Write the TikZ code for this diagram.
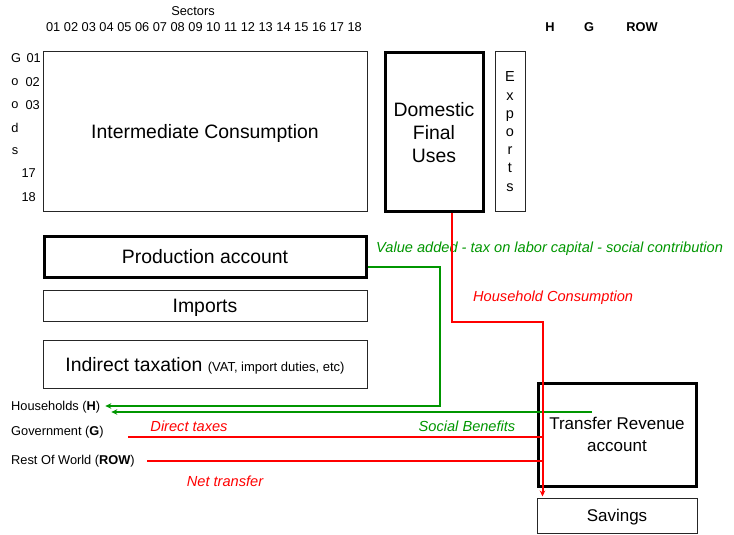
\documentclass[tikz,border=0pt]{standalone}
\usepackage{fontspec}
\setmainfont{Liberation Sans}
\usetikzlibrary{arrows.meta}
\definecolor{vgreen}{RGB}{0,150,0}
\definecolor{vred}{RGB}{255,0,0}
\begin{document}
\begin{tikzpicture}[x=1pt,y=-1pt,
  thinbox/.style={draw=black!85, line width=1pt, inner sep=0pt, align=center, text depth=0pt},
  thickbox/.style={draw=black, line width=3pt, inner sep=0pt, align=center, text depth=0pt},
  lbl/.style={inner sep=0pt, font=\fontsize{12.8}{15}\selectfont},
  big/.style={font=\fontsize{19.4}{23}\selectfont},
  mid/.style={font=\fontsize{17}{22}\selectfont},
  glink/.style={draw=vgreen, line width=2pt},
  rlink/.style={draw=vred, line width=2pt},
  gtxt/.style={text=vgreen, inner sep=0pt, font=\fontsize{14.6}{17}\selectfont\itshape},
  rtxt/.style={text=vred, inner sep=0pt, font=\fontsize{14.6}{17}\selectfont\itshape},
  tipend/.style={-{Stealth[length=6pt,width=5.5pt]}}
]
\useasboundingbox (0,0) rectangle (734,535);

% headers
\node[lbl] (sectors) at (193,11) {Sectors};
\node[lbl] (secnums) at (204,27) {01 02 03 04 05 06 07 08 09 10 11 12 13 14 15 16 17 18};
\node[lbl, font=\fontsize{12.8}{15}\selectfont\bfseries] (hcol) at (550,27) {H};
\node[lbl, font=\fontsize{12.8}{15}\selectfont\bfseries] (gcol) at (589,27) {G};
\node[lbl, font=\fontsize{12.8}{15}\selectfont\bfseries] (rowcol) at (642,27) {ROW};

% goods column
\node[lbl] (gG) at (16,58) {G};
\node[lbl] (go1) at (15,82) {o};
\node[lbl] (go2) at (15,105) {o};
\node[lbl] (gd) at (15,128) {d};
\node[lbl] (gs) at (15,151) {s};
\node[lbl, anchor=east] (n01) at (41,58) {01};
\node[lbl, anchor=east] (n02) at (40,82) {02};
\node[lbl, anchor=east] (n03) at (40,105) {03};
\node[lbl, anchor=east] (n17) at (36,173) {17};
\node[lbl, anchor=east] (n18) at (36,197) {18};

% boxes
\node[thinbox, big, minimum width=324pt, minimum height=159pt] (ic) at (205,131.5) {Intermediate Consumption};
\node[thickbox, big, minimum width=98pt, minimum height=158pt] (dfu) at (434,132) {Domestic\\Final\\Uses};
\node[thinbox, font=\fontsize{14.5}{18.2}\selectfont, minimum width=30pt, minimum height=159pt] (exp) at (510,131.5) {E\\x\\p\\o\\r\\t\\s};
\node[thickbox, big, minimum width=322pt, minimum height=41pt] (prod) at (205,256.5) {Production account};
\node[thinbox, big, minimum width=324pt, minimum height=31pt] (imp) at (205,305.5) {Imports};
\node[thinbox, big, minimum width=324pt, minimum height=48pt] (ind) at (205,364) {Indirect taxation {\fontsize{13}{15}\selectfont(VAT, import duties, etc)}};
\node[thickbox, mid, minimum width=158pt, minimum height=103pt] (tra) at (617,434.5) {Transfer Revenue\\account};
\node[thinbox, mid, minimum width=160pt, minimum height=35pt] (sav) at (617,515.5) {Savings};

% agents
\node[lbl, anchor=west] (hh) at (11,407) {Households (\textbf{H})};
\node[lbl, anchor=west] (gov) at (11,432) {Government (\textbf{G})};
\node[lbl, anchor=west] (row) at (11,461) {Rest Of World (\textbf{ROW})};

% labels
\node[gtxt, anchor=west] (va) at (376,249) {Value added - tax on labor capital - social contribution};
\node[rtxt, anchor=west] (hcons) at (473,298) {Household Consumption};
\node[gtxt] (sb) at (467,426) {Social Benefits};
\node[rtxt] (dt) at (189,426) {Direct taxes};
\node[rtxt] (nt) at (225,481) {Net transfer};

% green connectors
\coordinate (gturn) at (440,406);
\coordinate (hhtipa) at ([xshift=5pt]hh.east);
\draw[glink, tipend] ([yshift=-10pt]prod.east) -| (gturn) -- (hhtipa |- gturn);
\coordinate (sbstart) at (592,412);
\coordinate (hhtipb) at ([xshift=11pt]hh.east);
\draw[glink, tipend] (sbstart) -- (hhtipb |- sbstart);

% red connectors
\coordinate (redv) at (543,321);
\draw[rlink, tipend] ([xshift=18pt]dfu.south) -- ++(0,109) -| ([xshift=6pt,yshift=1pt]sav.north west);
\coordinate (dtstart) at (128,437);
\coordinate (ntstart) at (147,461);
\draw[rlink] (dtstart) -- (dtstart -| redv);
\draw[rlink] (ntstart) -- (ntstart -| redv);
\end{tikzpicture}
\end{document}
